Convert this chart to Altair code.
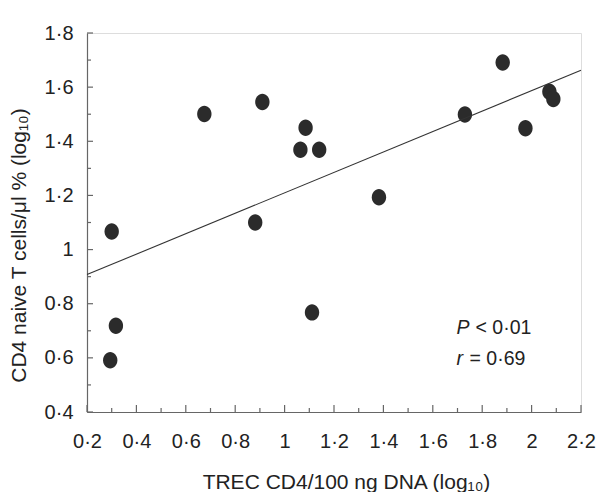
import altair as alt
import pandas as pd

# Data
trec = [0.300, 0.317, 0.294, 0.675, 0.881, 0.910, 1.064, 1.085,
        1.111, 1.140, 1.382, 1.730, 1.883, 1.975, 2.072, 2.088]
naive = [1.067, 0.719, 0.591, 1.501, 1.100, 1.545, 1.369, 1.450,
         0.768, 1.369, 1.193, 1.499, 1.691, 1.448, 1.583, 1.556]

x_major = [0.2, 0.4, 0.6, 0.8, 1.0, 1.2, 1.4, 1.6, 1.8, 2.0, 2.2]
x_minor = [0.3, 0.5, 0.7, 0.9, 1.1, 1.3, 1.5, 1.7, 1.9, 2.1]
y_major = [0.4, 0.6, 0.8, 1.0, 1.2, 1.4, 1.6, 1.8]
y_minor = [0.5, 0.7, 0.9, 1.1, 1.3, 1.5, 1.7]

ann_sym = ["P", "r"]
ann_rest = ["< 0·01", "= 0·69"]
ann_x = [1.696, 1.696]
ann_y = [0.689, 0.575]

df = pd.DataFrame({"x": trec, "y": naive})
ann = pd.DataFrame({"sym": ann_sym, "rest": ann_rest, "x": ann_x, "y": ann_y})
xmaj = pd.DataFrame({"v": x_major})
xmin = pd.DataFrame({"v": x_minor})
ymaj = pd.DataFrame({"v": y_major})
ymin = pd.DataFrame({"v": y_minor})

W, H = 494, 379
FONT = "Liberation Sans"
INK = "#222222"
AXC = "#666666"
lab = "replace(toString(round(datum.value*10)/10), '.', '·')"

xs = alt.Scale(domain=[0.2, 2.2], nice=False, zero=False)
ys = alt.Scale(domain=[0.4, 1.8], nice=False, zero=False)

main_x = alt.Axis(values=x_major, ticks=False, domainColor=AXC, domainWidth=1.2,
                  labelExpr=lab, labelFont=FONT, labelFontSize=20, labelColor=INK,
                  labelPadding=19, labelFlush=False, grid=False,
                  title="TREC CD4/100 ng DNA (log₁₀)",
                  titleFont=FONT, titleFontSize=21, titleFontWeight="normal",
                  titleColor=INK, titleX=259, titleY=76, titleBaseline="alphabetic",
                  titleAlign="center")
main_y = alt.Axis(values=y_major, ticks=False, domainColor=AXC, domainWidth=1.2,
                  labelExpr=lab, labelFont=FONT, labelFontSize=20, labelColor=INK,
                  labelPadding=14, labelFlush=False, grid=False,
                  title="CD4 naive T cells/μl % (log₁₀)",
                  titleFont=FONT, titleFontSize=21, titleFontWeight="normal",
                  titleColor=INK, titleX=-62, titleY=212, titleBaseline="alphabetic",
                  titleAlign="center", titleAngle=270)

ellipse = "M-0.87,0 A0.87,1 0 1,0 0.87,0 A0.87,1 0 1,0 -0.87,0 Z"

points = alt.Chart(df).mark_point(shape=ellipse, filled=True, size=272, opacity=1,
                                  color="#2b2b2b").encode(
    x=alt.X("x:Q", scale=xs, axis=main_x),
    y=alt.Y("y:Q", scale=ys, axis=main_y),
)

fit = alt.Chart(df).transform_regression("x", "y", extent=[0.2, 2.2]).mark_line(
    color="#333333", strokeWidth=1.1).encode(
    x=alt.X("x:Q", scale=xs),
    y=alt.Y("y:Q", scale=ys),
)

# inward tick marks
tx_major = alt.Chart(xmaj).mark_rule(color=AXC, strokeWidth=1.2).encode(
    x=alt.X("v:Q", scale=xs), y=alt.value(H), y2=alt.value(H - 7))
tx_minor = alt.Chart(xmin).mark_rule(color=AXC, strokeWidth=1.2).encode(
    x=alt.X("v:Q", scale=xs), y=alt.value(H), y2=alt.value(H - 4))
ty_major = alt.Chart(ymaj).mark_rule(color=AXC, strokeWidth=1.2).encode(
    y=alt.Y("v:Q", scale=ys), x=alt.value(0), x2=alt.value(6))
ty_minor = alt.Chart(ymin).mark_rule(color=AXC, strokeWidth=1.2).encode(
    y=alt.Y("v:Q", scale=ys), x=alt.value(0), x2=alt.value(4))

sym = alt.Chart(ann).mark_text(font=FONT, fontSize=19.5, fontStyle="italic", align="left",
                               baseline="alphabetic", color=INK).encode(
    x=alt.X("x:Q", scale=xs), y=alt.Y("y:Q", scale=ys), text="sym:N")

rest1 = alt.Chart(ann).transform_filter("datum.sym == 'P'").mark_text(
    font=FONT, fontSize=19.5, align="left", baseline="alphabetic", color=INK, dx=19).encode(
    x=alt.X("x:Q", scale=xs), y=alt.Y("y:Q", scale=ys), text="rest:N")
rest2 = alt.Chart(ann).transform_filter("datum.sym == 'r'").mark_text(
    font=FONT, fontSize=19.5, align="left", baseline="alphabetic", color=INK, dx=13).encode(
    x=alt.X("x:Q", scale=xs), y=alt.Y("y:Q", scale=ys), text="rest:N")

chart = alt.layer(points, fit, tx_major, tx_minor, ty_major, ty_minor,
                  sym, rest1, rest2).properties(
    width=W, height=H,
    autosize=alt.AutoSizeParams(type="none"),
    padding={"left": 79, "top": 25, "right": 20, "bottom": 80},
).configure_view(stroke=None).configure(background="white")

chart.save("out.html", embed_options={"renderer": "svg", "actions": False})
